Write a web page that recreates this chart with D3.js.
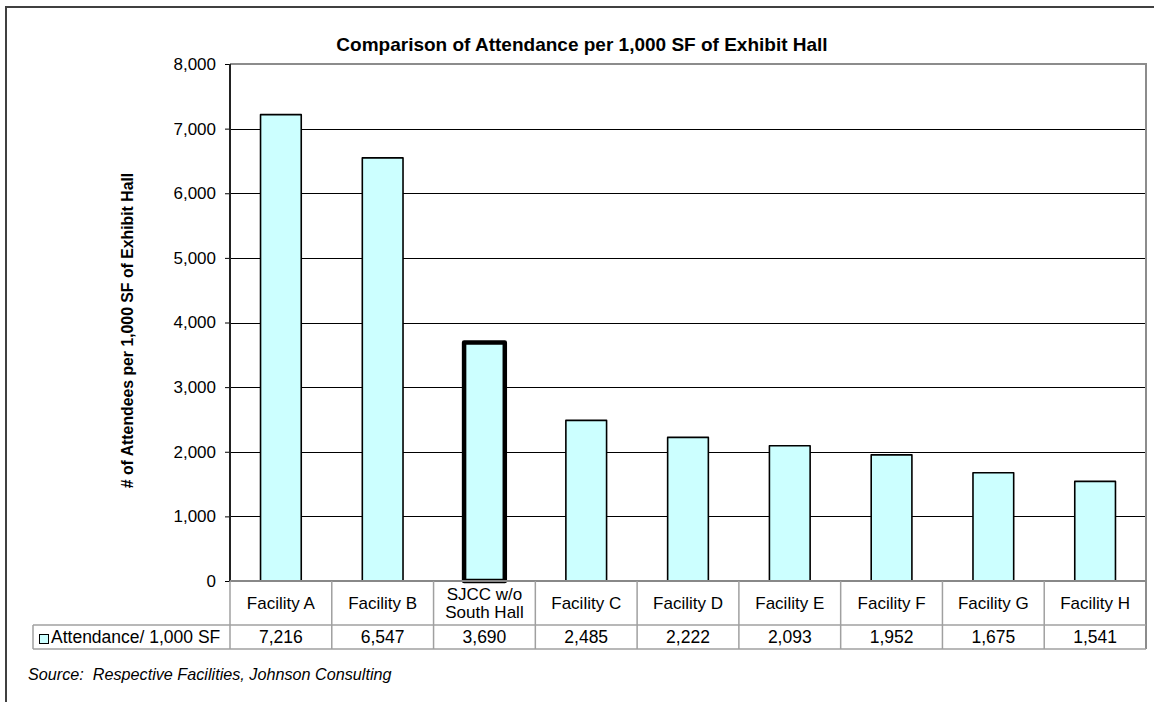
<!DOCTYPE html>
<html>
<head>
<meta charset="utf-8">
<script src="https://cdn.jsdelivr.net/npm/d3@7"></script>
<style>
  html, body { margin: 0; padding: 0; background: #fff; }
  svg { display: block; font-family: "Liberation Sans", Arial, sans-serif; }
  .pre { white-space: pre; }
</style>
</head>
<body>
<svg id="chart" width="1154" height="702"></svg>
<script>
// Attendance per 1,000 SF of exhibit hall, by facility
const categories = [
  ["Facility A"], ["Facility B"], ["SJCC w/o", "South Hall"], ["Facility C"],
  ["Facility D"], ["Facility E"], ["Facility F"], ["Facility G"], ["Facility H"]
];
const attendance = [7216, 6547, 3690, 2485, 2222, 2093, 1952, 1675, 1541];
const highlighted = [false, false, true, false, false, false, false, false, false];
const yTicks = [0, 1000, 2000, 3000, 4000, 5000, 6000, 7000, 8000];
const seriesName = "Attendance/ 1,000 SF";
const titleText = "Comparison of Attendance per 1,000 SF of Exhibit Hall";
const yAxisTitle = "# of Attendees per 1,000 SF of Exhibit Hall";
const sourceText = "Source:  Respective Facilities, Johnson Consulting";

const svg = d3.select("#chart");
const plot = { left: 230, right: 1146, top: 64, bottom: 581 };
const row1Bottom = 625, row2Bottom = 649, legendLeft = 33;
const fmt = d3.format(",");
const fs = 17;

const keys = categories.map((c, i) => i);
const x = d3.scaleBand().domain(keys).range([plot.left, plot.right])
  .paddingInner(0.6).paddingOuter(0.3);
const y = d3.scaleLinear().domain([0, 8000]).range([plot.bottom, plot.top]);

// outer frame
svg.append("path")
  .attr("d", `M6,702 V7 H1154`)
  .attr("fill", "none").attr("stroke", "#404040").attr("stroke-width", 2);

// title
svg.append("text")
  .attr("x", 582).attr("y", 51)
  .attr("text-anchor", "middle")
  .attr("font-weight", "bold").attr("font-size", 19)
  .text(titleText);

// gridlines
svg.append("g").selectAll("line")
  .data(yTicks.filter(t => t > 0 && t < 8000))
  .join("line")
  .attr("x1", plot.left).attr("x2", plot.right)
  .attr("y1", d => Math.round(y(d)) + 0.5).attr("y2", d => Math.round(y(d)) + 0.5)
  .attr("stroke", "#000").attr("stroke-width", 1);

// plot border (top and right)
svg.append("path")
  .attr("d", `M${plot.left},${plot.top} H${plot.right} V${row2Bottom}`)
  .attr("fill", "none").attr("stroke", "#8c8c8c").attr("stroke-width", 2);

// y axis
const yAxis = d3.axisLeft(y).tickValues(yTicks).tickFormat(fmt).tickSize(5).tickPadding(9);
const gy = svg.append("g").attr("transform", `translate(${plot.left},0)`).call(yAxis);
gy.select(".domain").remove();
gy.selectAll(".tick line").attr("stroke", "#000");
gy.selectAll(".tick text")
  .attr("font-family", "Liberation Sans, Arial, sans-serif")
  .attr("font-size", fs).attr("fill", "#000");
svg.append("line")
  .attr("x1", plot.left).attr("x2", plot.left)
  .attr("y1", plot.top).attr("y2", plot.bottom)
  .attr("stroke", "#222").attr("stroke-width", 2);

// y axis title
svg.append("text")
  .attr("transform", `translate(133,${(plot.top + plot.bottom) / 2 + 8}) rotate(-90)`)
  .attr("text-anchor", "middle")
  .attr("font-weight", "bold").attr("font-size", 15.8)
  .text(yAxisTitle);

// bars
svg.append("g").selectAll("rect")
  .data(attendance)
  .join("rect")
  .attr("x", (d, i) => x(i))
  .attr("width", x.bandwidth())
  .attr("y", d => y(d))
  .attr("height", d => y(0) - y(d))
  .attr("fill", "#ccffff")
  .attr("stroke", "#000")
  .attr("stroke-linejoin", "round")
  .attr("stroke-width", (d, i) => highlighted[i] ? 4.5 : 1.6);

// data table
const step = x.step();
const tbl = svg.append("g").attr("stroke", "#a0a0a0").attr("stroke-width", 1.5);
tbl.append("line").attr("x1", plot.left).attr("x2", plot.right)
  .attr("y1", plot.bottom).attr("y2", plot.bottom).attr("stroke", "#888").attr("stroke-width", 2);
tbl.append("line").attr("x1", legendLeft).attr("x2", plot.right)
  .attr("y1", row1Bottom).attr("y2", row1Bottom);
tbl.append("line").attr("x1", legendLeft).attr("x2", plot.right)
  .attr("y1", row2Bottom).attr("y2", row2Bottom);
tbl.append("line").attr("x1", legendLeft).attr("x2", legendLeft)
  .attr("y1", row1Bottom).attr("y2", row2Bottom);
tbl.selectAll(".sep")
  .data(d3.range(categories.length))
  .join("line")
  .attr("class", "sep")
  .attr("x1", i => plot.left + step * i).attr("x2", i => plot.left + step * i)
  .attr("y1", plot.bottom).attr("y2", row2Bottom);

// category labels
const cat = svg.append("g").attr("font-size", fs).attr("text-anchor", "middle");
categories.forEach((lines, i) => {
  const cx = x(i) + x.bandwidth() / 2;
  const t = cat.append("text").attr("x", cx);
  if (lines.length === 1) {
    t.attr("y", 609).text(lines[0]);
  } else {
    lines.forEach((s, k) => {
      t.append("tspan").attr("x", cx).attr("y", 600 + k * 17.5).text(s);
    });
  }
});

// values row
svg.append("g").attr("font-size", 17.5).attr("text-anchor", "middle")
  .selectAll("text").data(attendance).join("text")
  .attr("x", (d, i) => x(i) + x.bandwidth() / 2)
  .attr("y", 642.5)
  .text(d => fmt(d));

// legend key
svg.append("rect")
  .attr("x", 39.5).attr("y", 634.5).attr("width", 9).attr("height", 9)
  .attr("fill", "#ccffff").attr("stroke", "#000").attr("stroke-width", 1);
svg.append("text")
  .attr("x", 51).attr("y", 642.5).attr("font-size", 17.5)
  .text(seriesName);

// source note
svg.append("text")
  .attr("class", "pre")
  .attr("x", 28).attr("y", 680)
  .attr("font-size", 16.2).attr("font-style", "italic")
  .text(sourceText);
</script>
</body>
</html>
